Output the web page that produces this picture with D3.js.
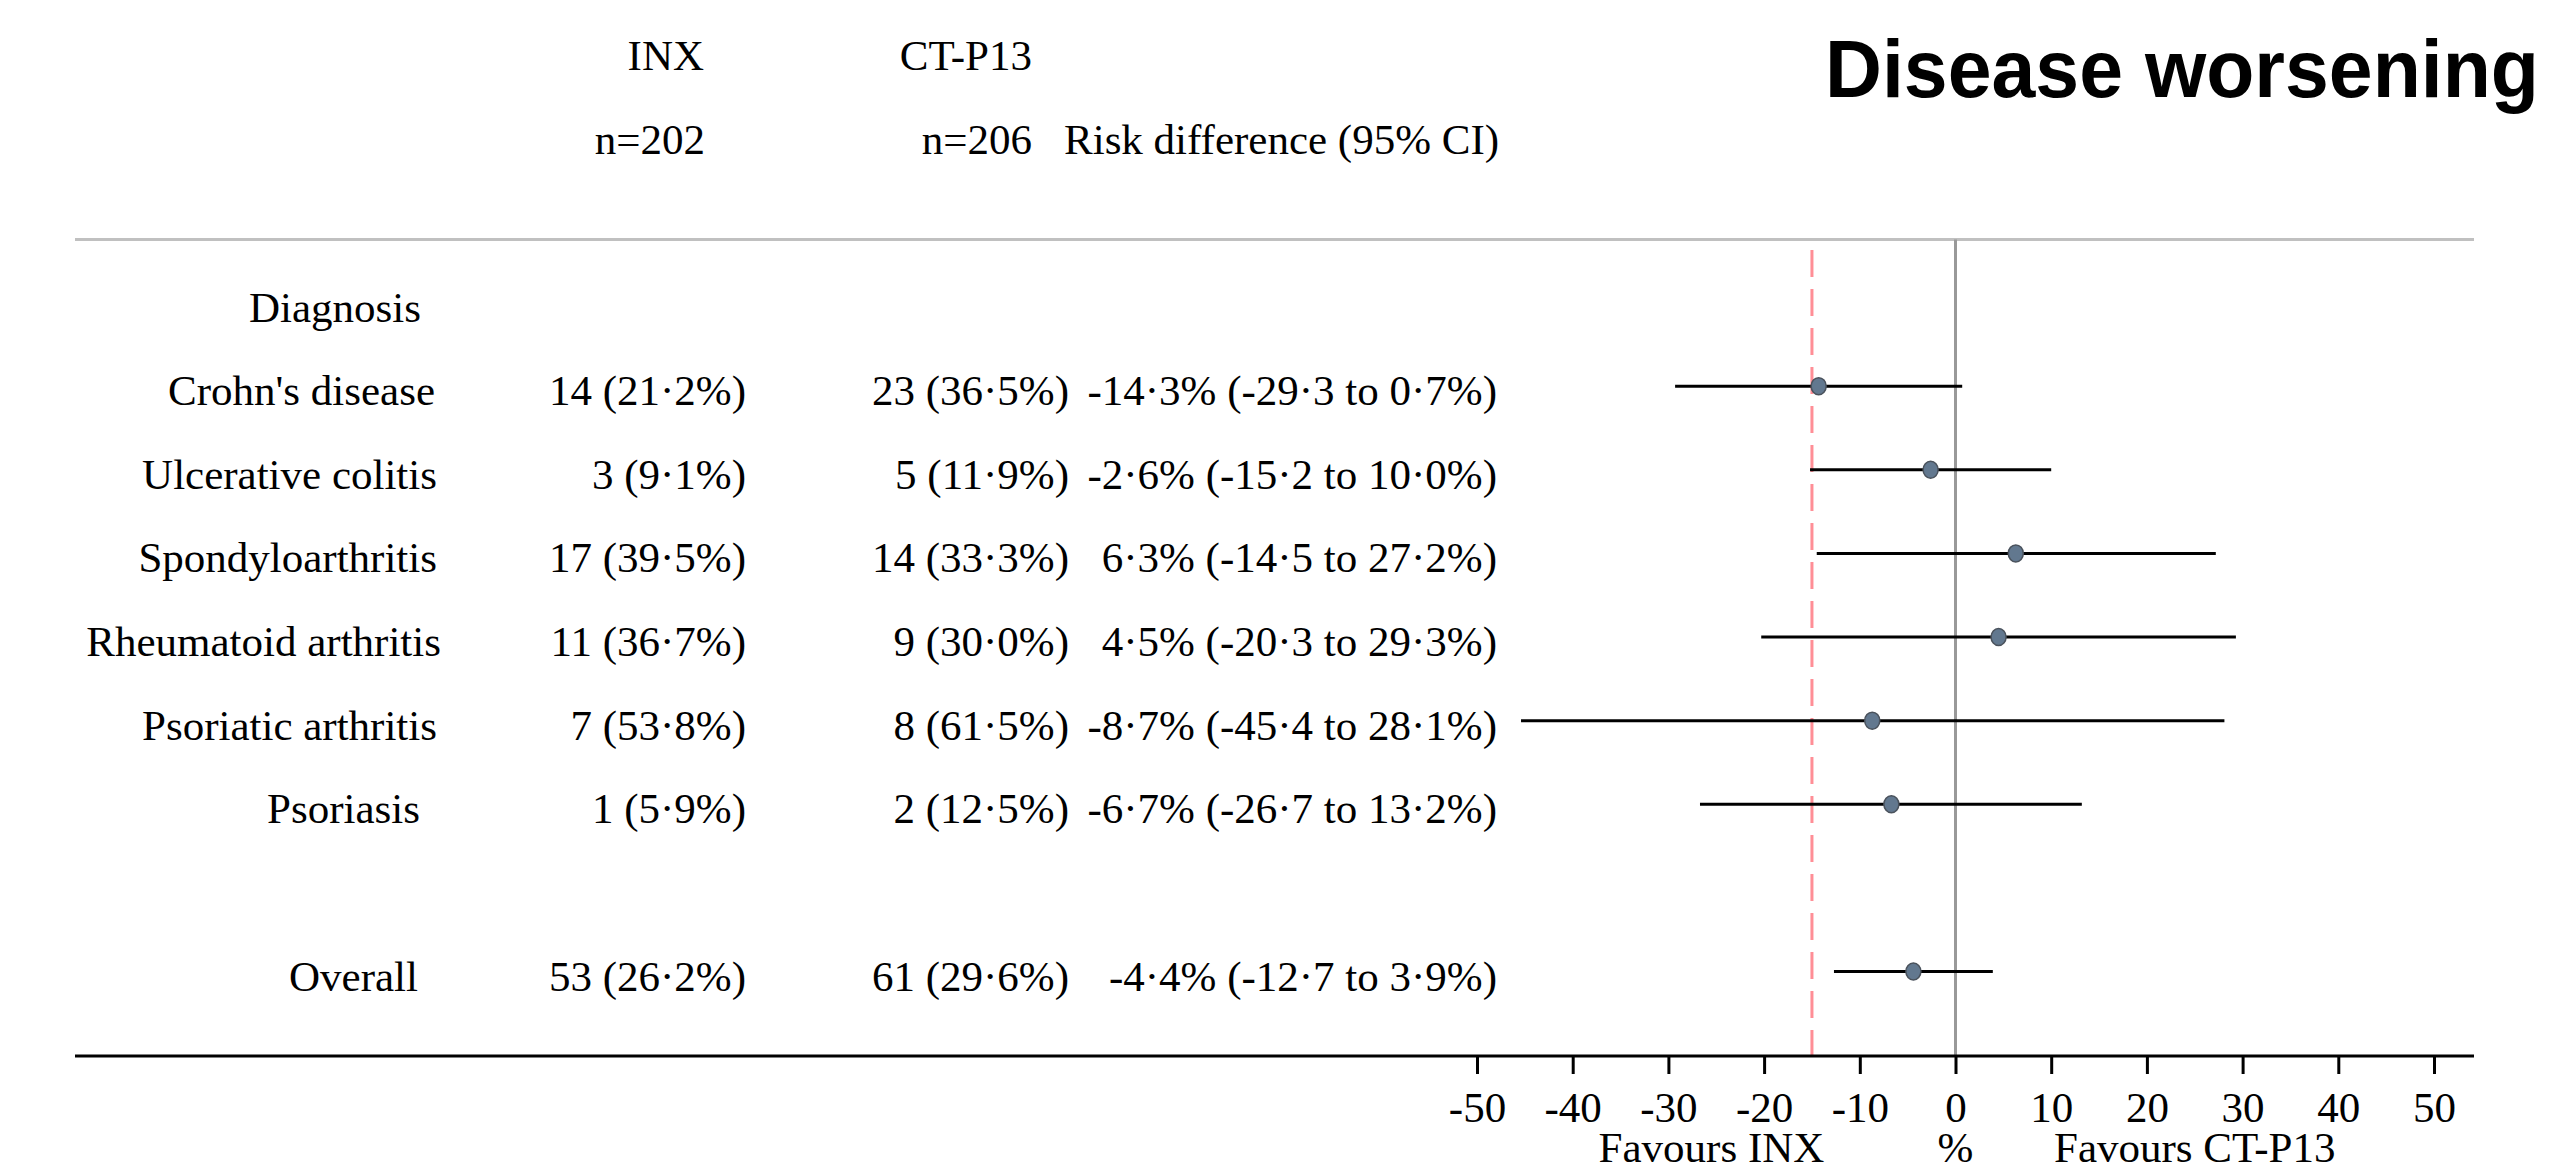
<!DOCTYPE html>
<html>
<head>
<meta charset="utf-8">
<script src="https://cdn.jsdelivr.net/npm/d3@7"></script>
<style>
  html, body { margin: 0; padding: 0; background: #fff; }
  svg { display: block; }
</style>
</head>
<body>
<svg id="chart" width="2550" height="1173"></svg>
<script>
// ---------------- data ----------------
const categories = ["Crohn's disease", "Ulcerative colitis", "Spondyloarthritis",
                    "Rheumatoid arthritis", "Psoriatic arthritis", "Psoriasis"];
const inxCount = [14, 3, 17, 11, 7, 1];
const inxPct   = [21.2, 9.1, 39.5, 36.7, 53.8, 5.9];
const ctCount  = [23, 5, 14, 9, 8, 2];
const ctPct    = [36.5, 11.9, 33.3, 30.0, 61.5, 12.5];
const riskDiff = [-14.3, -2.6, 6.3, 4.5, -8.7, -6.7];
const ciLow    = [-29.3, -15.2, -14.5, -20.3, -45.4, -26.7];
const ciHigh   = [0.7, 10.0, 27.2, 29.3, 28.1, 13.2];

const overallLabel = "Overall";
const overallInxCount = 53, overallInxPct = 26.2;
const overallCtCount = 61, overallCtPct = 29.6;
const overallRD = -4.4, overallLow = -12.7, overallHigh = 3.9;

const groupLabel = "Diagnosis";
const headerInx = ["INX", "n=202"];
const headerCt = ["CT-P13", "n=206"];
const headerRD = "Risk difference (95% CI)";
const title = "Disease worsening";
const tickValues = [-50, -40, -30, -20, -10, 0, 10, 20, 30, 40, 50];
const margin = -15;
const favoursLeft = "Favours INX";
const favoursRight = "Favours CT-P13";
const axisUnit = "%";

// ---------------- layout (label right edges, as laid out in the original) ----------------
const labelRight = { "Rheumatoid arthritis": 441, "Psoriasis": 420, "Overall": 418, "Crohn's disease": 435 };
const labelRightDefault = 437;

// ---------------- helpers ----------------
const fmt = v => v.toFixed(1).replace(".", "\u00B7");
const cell = (n, p) => `${n} (${fmt(p)}%)`;
const rdText = (d, l, h) => `${fmt(d)}% (${fmt(l)} to ${fmt(h)}%)`;

const rows = categories.map((c, i) => ({
  label: c, row: i + 1,
  inx: cell(inxCount[i], inxPct[i]), ct: cell(ctCount[i], ctPct[i]),
  rd: riskDiff[i], lo: ciLow[i], hi: ciHigh[i]
}));
rows.push({
  label: overallLabel, row: 8,
  inx: cell(overallInxCount, overallInxPct), ct: cell(overallCtCount, overallCtPct),
  rd: overallRD, lo: overallLow, hi: overallHigh
});

// ---------------- scales ----------------
const x = d3.scaleLinear().domain([-50, 50]).range([1477, 2434]);
const y = d3.scaleLinear().domain([0, 8]).range([302.5, 971.5]);

const svg = d3.select("#chart");
const serif = "'Liberation Serif', 'Times New Roman', serif";
const FS = 43;
const textBase = 19;
const topY = 239.5, axisY = 1056;

// top separator line
svg.append("line")
  .attr("x1", 75).attr("x2", 2474).attr("y1", topY).attr("y2", topY)
  .attr("stroke", "#c0c0c0").attr("stroke-width", 3);

// zero line
svg.append("line")
  .attr("x1", x(0)).attr("x2", x(0)).attr("y1", topY).attr("y2", axisY)
  .attr("stroke", "#999").attr("stroke-width", 3);

// margin dashed line
svg.append("line")
  .attr("x1", x(margin)).attr("x2", x(margin)).attr("y1", 250).attr("y2", axisY)
  .attr("stroke", "#ff8e96").attr("stroke-width", 3)
  .attr("stroke-dasharray", "27,12");

// header
const hdr = svg.append("g").attr("font-family", serif).attr("font-size", FS).attr("fill", "#000");
hdr.append("text").attr("x", 704).attr("y", 70).attr("text-anchor", "end").text(headerInx[0]);
hdr.append("text").attr("x", 705).attr("y", 154).attr("text-anchor", "end").text(headerInx[1]);
hdr.append("text").attr("x", 1032).attr("y", 70).attr("text-anchor", "end").text(headerCt[0]);
hdr.append("text").attr("x", 1032).attr("y", 154).attr("text-anchor", "end").text(headerCt[1]);
hdr.append("text").attr("x", 1064).attr("y", 154).attr("text-anchor", "start").text(headerRD);

// title
svg.append("text")
  .attr("x", 1825).attr("y", 97)
  .attr("font-family", "'Liberation Sans', Arial, sans-serif")
  .attr("font-weight", "bold").attr("font-size", 81)
  .attr("textLength", 714).attr("lengthAdjust", "spacingAndGlyphs")
  .text(title);

// table text
const tbl = svg.append("g").attr("font-family", serif).attr("font-size", FS).attr("fill", "#000");
tbl.append("text").attr("x", 421).attr("y", y(0) + textBase).attr("text-anchor", "end").text(groupLabel);

const rg = tbl.selectAll("g.row").data(rows).join("g").attr("class", "row")
  .attr("transform", d => `translate(0,${y(d.row) + textBase})`);
rg.append("text").attr("x", d => labelRight[d.label] ?? labelRightDefault)
  .attr("text-anchor", "end").text(d => d.label);
rg.append("text").attr("x", 746).attr("text-anchor", "end").text(d => d.inx);
rg.append("text").attr("x", 1069).attr("text-anchor", "end").text(d => d.ct);
rg.append("text").attr("x", 1497).attr("text-anchor", "end").text(d => rdText(d.rd, d.lo, d.hi));

// CI lines + points
const plot = svg.append("g");
plot.selectAll("line.ci").data(rows).join("line").attr("class", "ci")
  .attr("x1", d => x(d.lo)).attr("x2", d => x(d.hi))
  .attr("y1", d => y(d.row)).attr("y2", d => y(d.row))
  .attr("stroke", "#000").attr("stroke-width", 3);
plot.selectAll("ellipse.pt").data(rows).join("ellipse").attr("class", "pt")
  .attr("cx", d => x(d.rd)).attr("cy", d => y(d.row))
  .attr("rx", 7.5).attr("ry", 8.5)
  .attr("fill", "#62788f").attr("stroke", "#4a525c").attr("stroke-width", 1.5);

// axis
const axis = d3.axisBottom(x).tickValues(tickValues).tickSize(18).tickSizeOuter(0)
  .tickFormat(d => String(d));
const ag = svg.append("g").attr("transform", `translate(0,${axisY})`).call(axis);
ag.select(".domain").remove();
ag.selectAll(".tick line").attr("stroke", "#000").attr("stroke-width", 3);
ag.selectAll(".tick text")
  .attr("y", 66).attr("dy", 0)
  .attr("font-family", serif).attr("font-size", FS).attr("fill", "#000");

svg.append("line")
  .attr("x1", 75).attr("x2", 2474).attr("y1", axisY).attr("y2", axisY)
  .attr("stroke", "#000").attr("stroke-width", 3);

// axis captions
const cap = svg.append("g").attr("font-family", serif).attr("font-size", FS).attr("fill", "#000")
  .attr("text-anchor", "middle");
cap.append("text").attr("x", x(-25.5)).attr("y", 1162).text(favoursLeft);
cap.append("text").attr("x", x(0)).attr("y", 1162).text(axisUnit);
cap.append("text").attr("x", x(25)).attr("y", 1162).text(favoursRight);
</script>
</body>
</html>
